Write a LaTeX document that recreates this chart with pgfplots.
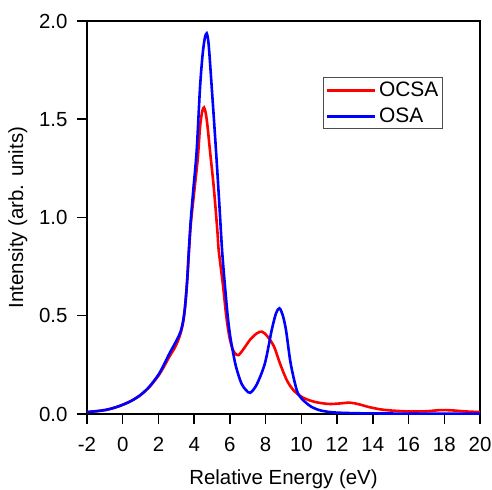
\documentclass[border=0pt]{standalone}
\usepackage{pgfplots}
\pgfplotsset{compat=1.18}
\usepackage{pgfplotstable}
\usepackage{fontspec}
\setmainfont{Liberation Sans}
\pgfplotstableread{
x y
-2.0 0.010
-1.5 0.014
-1.0 0.020
-0.5 0.031
0.0 0.047
0.5 0.068
1.0 0.097
1.5 0.140
2.0 0.200
2.3 0.250
2.6 0.305
2.9 0.355
3.1 0.390
3.25 0.422
3.38 0.472
3.49 0.546
3.61 0.682
3.70 0.830
3.80 0.975
3.95 1.140
4.14 1.340
4.33 1.666
4.48 1.836
4.60 1.915
4.70 1.937
4.78 1.905
4.85 1.836
4.98 1.666
5.12 1.480
5.25 1.300
5.40 1.080
5.56 0.835
5.71 0.665
5.88 0.495
6.02 0.393
6.15 0.326
6.34 0.241
6.64 0.156
6.90 0.122
7.14 0.108
7.50 0.150
7.96 0.258
8.34 0.427
8.58 0.512
8.77 0.538
8.95 0.505
9.14 0.427
9.40 0.258
9.74 0.122
10.0 0.080
10.5 0.040
11.0 0.020
11.5 0.011
12.0 0.007
13.0 0.004
14.0 0.003
16.0 0.002
20.0 0.002
}\osa
\pgfplotstableread{
x y
-2.0 0.010
-1.5 0.014
-1.0 0.020
-0.5 0.031
0.0 0.047
0.5 0.068
1.0 0.097
1.5 0.138
2.0 0.195
2.3 0.240
2.6 0.290
2.9 0.335
3.1 0.374
3.25 0.414
3.38 0.467
3.49 0.546
3.61 0.682
3.71 0.830
3.82 0.975
4.0 1.130
4.2 1.300
4.33 1.462
4.45 1.540
4.55 1.560
4.65 1.530
4.75 1.462
4.88 1.344
5.10 1.150
5.30 0.930
5.37 0.835
5.60 0.665
5.80 0.495
5.97 0.393
6.15 0.330
6.30 0.308
6.49 0.300
6.86 0.343
7.12 0.377
7.50 0.410
7.80 0.419
8.10 0.395
8.47 0.343
8.80 0.258
9.18 0.173
9.55 0.122
10.0 0.088
10.5 0.068
11.0 0.057
11.6 0.051
12.2 0.054
12.7 0.058
13.2 0.050
13.8 0.035
14.4 0.024
15.0 0.018
16.0 0.013
17.0 0.014
17.8 0.020
18.5 0.018
19.2 0.013
20.0 0.010
}\ocsa
\begin{document}
\begin{tikzpicture}
\begin{axis}[
  name=ax,
  scale only axis,
  width=393bp, height=393bp,
  xmin=-2, xmax=20, ymin=0, ymax=2,
  xtick={-2,0,...,20},
  ytick={0,0.5,1,1.5,2},
  yticklabel style={xshift=-6bp, /pgf/number format/fixed, /pgf/number format/fixed zerofill, /pgf/number format/precision=1},
  /pgf/number format/assume math mode=true,
  tick align=outside,
  tick pos=left,
  major tick length=10bp,
  every major tick/.append style={draw=black, line width=1.5bp},
  axis line style={line width=1.5bp},
  minor tick num=0,
  tick label style={font=\fontsize{20.5}{24}\selectfont},
  xticklabel style={yshift=-10bp},
  xlabel={Relative Energy (eV)},
  ylabel={Intensity (arb. units)},
  label style={font=\fontsize{20.5}{24}\selectfont},
  xlabel style={yshift=-11bp},
  ylabel style={yshift=5bp},
  legend style={at={(0.601,0.857)}, anchor=north west, draw=black!70, line width=0.8bp,
    font=\fontsize{21}{24}\selectfont, inner sep=2bp, row sep=5bp,
    nodes={inner sep=2.5bp}},
  legend cell align=left,
  legend image code/.code={\draw[#1, line width=3bp] (0bp,0bp) -- (48bp,0bp);},
]
\addplot[red, line width=2.6bp, smooth, tension=0.5] table[x=x,y=y] {\ocsa};
\addlegendentry{OCSA}
\addplot[blue, line width=2.6bp, smooth, tension=0.5] table[x=x,y=y] {\osa};
\addlegendentry{OSA}
\end{axis}
\pgfresetboundingbox
\path ([shift={(-87bp,-76bp)}]ax.south west) rectangle ++(492bp,490bp);
\end{tikzpicture}
\end{document}
